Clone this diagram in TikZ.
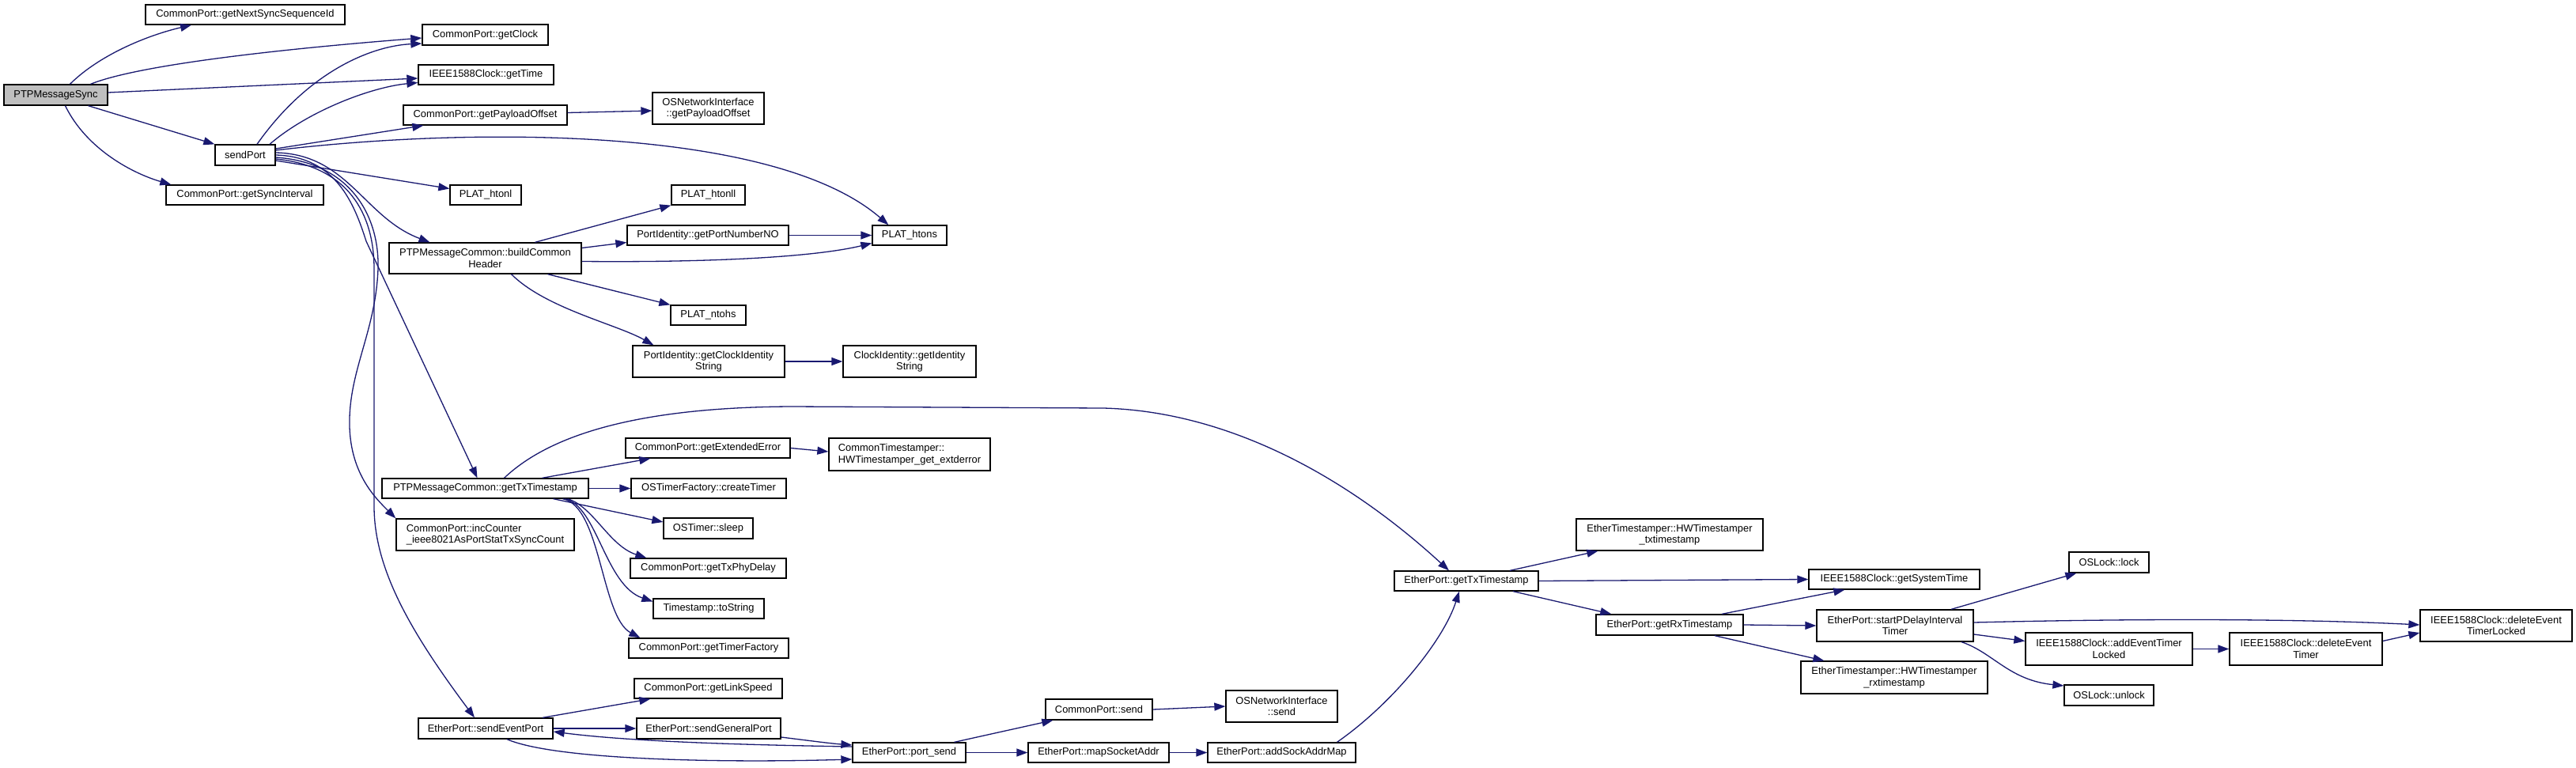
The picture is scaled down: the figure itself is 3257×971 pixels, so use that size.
\documentclass[tikz,border=0pt]{standalone}
\usepackage{fontspec}
\setmainfont{Liberation Sans}
\usetikzlibrary{arrows.meta}
\definecolor{edgec}{HTML}{191970}
\definecolor{grayf}{HTML}{BFBFBF}
\newcommand\mkbox[7][]{\node[fnbox,#1,minimum width={(#4-#3)*1pt},minimum height={(#6-#5)*1pt}] (#2) at ({(#3+#4)/2},{(#5+#6)/2}) {#7};}
\begin{document}
\begin{tikzpicture}[x=1pt,y=-1pt,
  fnbox/.style={draw=black,line width=1.3pt,fill=white,inner sep=0pt,align=center,
    font=\fontsize{12.9}{14.5}\selectfont},
  leftbox/.style={align=left},
  call/.style={draw=edgec,line width=1.3pt,-{Triangle[length=14pt,width=10pt]}}]
\useasboundingbox[fill=white] (0,0) rectangle (3257,971);
% nodes
\mkbox[fill=grayf]{sync}{5}{136}{107}{133}{PTPMessageSync}
\mkbox{nextseq}{184}{436}{6}{31}{CommonPort::getNextSyncSequenceId}
\mkbox{getclock}{534}{693}{31}{57}{CommonPort::getClock}
\mkbox{gettime}{529}{700}{82}{107}{IEEE1588Clock::getTime}
\mkbox{payload}{510}{717}{133}{158}{CommonPort::getPayloadOffset}
\mkbox{ospayload}{825}{966}{117}{157}{OSNetworkInterface\\::getPayloadOffset}
\mkbox{sendport}{272}{348}{183}{209}{sendPort}
\mkbox{syncint}{210}{409}{234}{259}{CommonPort::getSyncInterval}
\mkbox{htonl}{569}{659}{234}{259}{PLAT\_htonl}
\mkbox{htonll}{849}{942}{234}{259}{PLAT\_htonll}
\mkbox{portnum}{793}{997}{285}{310}{PortIdentity::getPortNumberNO}
\mkbox{build}{492}{735}{307}{346}{PTPMessageCommon::buildCommon\\Header}
\mkbox{htons}{1103}{1197}{285}{310}{PLAT\_htons}
\mkbox{ntohs}{848}{943}{386}{411}{PLAT\_ntohs}
\mkbox{clockid}{800}{992}{437}{477}{PortIdentity::getClockIdentity\\String}
\mkbox{identity}{1066}{1234}{437}{477}{ClockIdentity::getIdentity\\String}
\mkbox{exterr}{791}{999}{554}{579}{CommonPort::getExtendedError}
\mkbox[leftbox]{hwext}{1048}{1252}{554}{595}{CommonTimestamper::\\HWTimestamper\_get\_extderror}
\mkbox{txts}{483}{744}{605}{630}{PTPMessageCommon::getTxTimestamp}
\mkbox{createtimer}{798}{994}{605}{630}{OSTimerFactory::createTimer}
\mkbox{sleep}{839}{952}{655}{681}{OSTimer::sleep}
\mkbox[leftbox]{inccounter}{501}{726}{656}{696}{CommonPort::incCounter\\\_ieee8021AsPortStatTxSyncCount}
\mkbox{phydelay}{797}{994}{706}{731}{CommonPort::getTxPhyDelay}
\mkbox{tostring}{826}{966}{757}{782}{Timestamp::toString}
\mkbox{timerfactory}{795}{997}{807}{832}{CommonPort::getTimerFactory}
\mkbox{linkspeed}{802}{989}{858}{883}{CommonPort::getLinkSpeed}
\mkbox{eventport}{529}{699}{908}{934}{EtherPort::sendEventPort}
\mkbox{generalport}{805}{987}{908}{934}{EtherPort::sendGeneralPort}
\mkbox{csend}{1322}{1457}{884}{910}{CommonPort::send}
\mkbox{ossend}{1550}{1691}{873}{913}{OSNetworkInterface\\::send}
\mkbox{portsend}{1078}{1221}{939}{964}{EtherPort::port\_send}
\mkbox{mapsock}{1300}{1478}{939}{964}{EtherPort::mapSocketAddr}
\mkbox{addsock}{1527}{1714}{939}{964}{EtherPort::addSockAddrMap}
\mkbox{ethtx}{1763}{1945}{722}{747}{EtherPort::getTxTimestamp}
\mkbox{hwtx}{1993}{2229}{656}{696}{EtherTimestamper::HWTimestamper\\\_txtimestamp}
\mkbox{systime}{2287}{2503}{720}{745}{IEEE1588Clock::getSystemTime}
\mkbox{rxts}{2018}{2204}{777}{803}{EtherPort::getRxTimestamp}
\mkbox{hwrx}{2277}{2513}{836}{877}{EtherTimestamper::HWTimestamper\\\_rxtimestamp}
\mkbox{pdelay}{2297}{2495}{771}{811}{EtherPort::startPDelayInterval\\Timer}
\mkbox{lock}{2616}{2717}{698}{724}{OSLock::lock}
\mkbox{addevent}{2561}{2772}{800}{841}{IEEE1588Clock::addEventTimer\\Locked}
\mkbox{unlock}{2610}{2723}{866}{892}{OSLock::unlock}
\mkbox{delevent}{2819}{3012}{800}{841}{IEEE1588Clock::deleteEvent\\Timer}
\mkbox{dellocked}{3060}{3252}{771}{811}{IEEE1588Clock::deleteEvent\\TimerLocked}
% edges from PTPMessageSync
\draw[call] ([xshift=18pt]sync.north) .. controls (125,70) and (185,45) .. ([xshift=-68pt]nextseq.south);
\draw[call] ([xshift=44pt]sync.north) .. controls (180,80) and (380,60) .. ([yshift=-4pt]getclock.west);
\draw[call] ([yshift=3pt]sync.east) -- ([yshift=-4.5pt]gettime.west);
\draw[call] ([xshift=41pt]sync.south) -- (sendport.north west);
\draw[call] ([xshift=12pt]sync.south) .. controls (110,190) and (170,220) .. ([xshift=7pt]syncint.north west);
% edges from sendPort
\draw[call] ([xshift=15pt]sendport.north) .. controls (390,90) and (470,58) .. ([yshift=-11pt]getclock.west);
\draw[call] ([xshift=31pt]sendport.north) .. controls (390,140) and (470,110) .. ([yshift=-10pt]gettime.west);
\draw[call] ([yshift=8pt]sendport.east) -- ([xshift=26pt]payload.south west);
\draw[call] ([yshift=6pt]sendport.east) .. controls (600,160) and (980,160) .. ([xshift=21pt]htons.north west);
\draw[call] ([yshift=-7pt]sendport.east) -- ([yshift=8pt]htonl.west);
\draw[call] ([yshift=3pt]sendport.east) .. controls (440,195) and (460,275) .. ([xshift=-70pt]build.north);
\draw[call] ([yshift=0pt]sendport.east) .. controls (425,198) and (448,258) .. (463,305) -- ([xshift=-10pt]txts.north);
\draw[call] ([yshift=-3pt]sendport.east) .. controls (440,205) and (480,270) .. (478,340) .. controls (475,420) and (440,470) .. (442,540) .. controls (444,600) and (475,630) .. (inccounter.north west);
\draw[call] ([yshift=-5pt]sendport.east) .. controls (440,210) and (473,270) .. (473,340) -- (473,640) .. controls (473,720) and (520,800) .. ([xshift=-14pt]eventport.north);
% misc
\draw[call] ([yshift=3pt]payload.east) -- ([yshift=-3pt]ospayload.west);
\draw[call] ([xshift=63pt]build.north) -- (htonll.south west);
\draw[call] ([yshift=13pt]build.east) -- ([yshift=-9pt]portnum.west);
\draw[call] ([yshift=-4pt]build.east) .. controls (900,332) and (1030,325) .. ([yshift=-10pt]htons.west);
\draw[call] ([xshift=79pt]build.south) -- (ntohs.north west);
\draw[call] ([xshift=33pt]build.south) .. controls (690,390) and (780,410) .. ([xshift=27pt]clockid.north west);
\draw[call] (portnum.east) -- (htons.west);
\draw[call] (clockid.east) -- (identity.west);
% PTPMessageCommon::getTxTimestamp
\draw[call] ([xshift=24pt]txts.north) .. controls (700,545) and (820,515) .. (1000,514) -- (1395,516) .. controls (1550,520) and (1700,600) .. ([xshift=-22pt]ethtx.north);
\draw[call] ([xshift=72pt]txts.north) -- ([xshift=32pt]exterr.south west);
\draw[call] (txts.east) -- (createtimer.west);
\draw[call] ([xshift=86pt]txts.south) -- ([yshift=8pt]sleep.west);
\draw[call] ([xshift=104pt]txts.south) .. controls (750,640) and (770,690) .. ([xshift=21pt]phydelay.north west);
\draw[call] ([xshift=101pt]txts.south) .. controls (755,640) and (765,740) .. ([yshift=9pt]tostring.west);
\draw[call] ([xshift=98pt]txts.south) .. controls (760,640) and (760,780) .. ([xshift=15pt]timerfactory.north west);
\draw[call] (exterr.east) -- ([yshift=3.5pt]hwext.west);
% sendEventPort and port_send
\draw[call] ([xshift=72pt]eventport.north) -- ([xshift=21pt]linkspeed.south west);
\draw[call] (eventport.east) -- (generalport.west);
\draw[call] ([yshift=7.5pt]portsend.west) .. controls (950,942) and (800,938) .. ([yshift=-4pt]eventport.east);
\draw[call] ([yshift=-11pt]generalport.east) .. controls (1020,936) and (1050,940) .. ([yshift=9.5pt]portsend.west);
\draw[call] ([xshift=27pt]eventport.south) .. controls (700,960) and (900,965) .. ([yshift=-8.5pt]portsend.west);
\draw[call] ([xshift=57pt]portsend.north) -- ([xshift=10pt]csend.south west);
\draw[call] (portsend.east) -- (mapsock.west);
\draw[call] (csend.east) -- (ossend.west);
\draw[call] (mapsock.east) -- (addsock.west);
\draw[call] ([xshift=70pt]addsock.north) .. controls (1760,890) and (1825,810) .. ([xshift=-9pt]ethtx.south);
% EtherPort::getTxTimestamp and below
\draw[call] ([xshift=55pt]ethtx.north) -- ([xshift=28pt]hwtx.south west);
\draw[call] (ethtx.east) -- (systime.west);
\draw[call] ([xshift=59pt]ethtx.south) -- ([xshift=20pt]rxts.north west);
\draw[call] ([xshift=66pt]rxts.north) -- ([xshift=46pt]systime.south west);
\draw[call] (rxts.east) -- (pdelay.west);
\draw[call] ([xshift=57pt]rxts.south) -- ([xshift=30pt]hwrx.north west);
\draw[call] ([xshift=71pt]pdelay.north) -- ([xshift=10pt]lock.south west);
\draw[call] ([yshift=4pt]pdelay.east) .. controls (2700,782) and (2900,782) .. ([yshift=1pt]dellocked.west);
\draw[call] ([yshift=-11pt]pdelay.east) -- ([yshift=10pt]addevent.west);
\draw[call] ([xshift=84pt]pdelay.south) .. controls (2520,825) and (2540,860) .. ([yshift=12pt]unlock.west);
\draw[call] (addevent.east) -- (delevent.west);
\draw[call] ([yshift=10pt]delevent.east) -- ([yshift=-9pt]dellocked.west);
\end{tikzpicture}
\end{document}
